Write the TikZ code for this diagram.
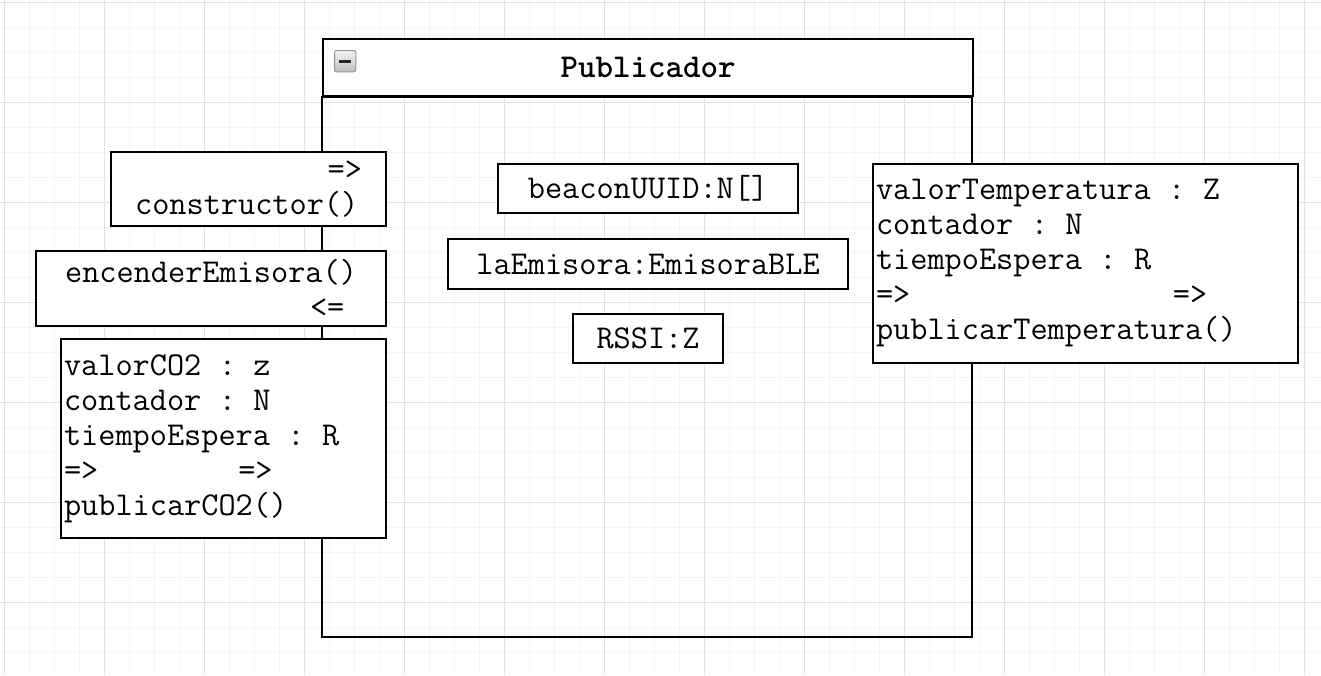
\documentclass[tikz,border=0pt]{standalone}
\usepackage{fontspec}
\newcommand{\umlfont}{\ttfamily\fontsize{25}{26.25}\selectfont}
\newcommand{\chgap}[1]{\hspace*{#1\dimexpr0.525em\relax}}
\tikzset{every picture/.style={line width=0.75pt}}
\tikzset{
  umlbox/.style={draw, fill=white, line width=1.5pt, inner sep=0pt, font=\umlfont, align=left, anchor=north west},
  gridminor/.style={draw={rgb,255:red,244;green,244;blue,244}, line width=0.75pt},
  gridmajor/.style={draw={rgb,255:red,226;green,226;blue,226}, line width=0.75pt}
}

\begin{document}
\begin{tikzpicture}[x=0.75pt,y=0.75pt,yscale=-1,xscale=1]
\useasboundingbox (0,0) rectangle (1321,675);
\fill[white] (0,0) rectangle (1321,675);

%Grid
\foreach \gx in {4,29,...,1321} \draw[gridminor] (\gx,0) -- (\gx,675);
\foreach \gy in {2,27,...,675} \draw[gridminor] (0,\gy) -- (1321,\gy);
\foreach \gx in {4,104,...,1321} \draw[gridmajor] (\gx,0) -- (\gx,675);
\foreach \gy in {2,102,...,675} \draw[gridmajor] (0,\gy) -- (1321,\gy);

%Shape: Rectangle [header]
\node (hdr) [umlbox, minimum width=487.5pt, minimum height=42.75pt, align=center] at (322,38) {\bfseries Publicador};
%Shape: Rectangle [body]
\draw [line width=1.5pt] (hdr.south west) rectangle (972,637);
%Shape: Collapse icon
\node (fold) [anchor=north west, draw={rgb,255:red,150;green,150;blue,150}, rounded corners=1.5pt, top color=gray!8, bottom color=gray!50, minimum width=16pt, minimum height=16pt, inner sep=0pt] at (334,50) {};
\draw [line width=2pt, color={rgb,255:red,40;green,40;blue,40}] ([xshift=-4.5pt]fold.center) -- ([xshift=4.5pt]fold.center);

% Text Node
\node (ctor) [umlbox, minimum width=206.25pt, minimum height=55.5pt] at (110,151) {\chgap{11}=>\\constructor()};
% Text Node
\node (enc) [umlbox, minimum width=262.5pt, minimum height=56.25pt] at (35,250) {encenderEmisora()\\\chgap{14}<=};
% Text Node
\node (co2) [umlbox, minimum width=243.75pt, minimum height=149.25pt, text width=239.25pt, inner xsep=2.25pt] at (60,338) {valorCO2\chgap{1}:\chgap{1}z\\contador\chgap{1}:\chgap{1}N\\tiempoEspera\chgap{1}:\chgap{1}R\\=>\chgap{8}=>\\publicarCO2()};
% Text Node
\node (uuid) [umlbox, minimum width=225pt, minimum height=36.75pt] at (497,163) {beaconUUID:N[]};
% Text Node
\node (emis) [umlbox, minimum width=300pt, minimum height=37.5pt] at (447,238) {laEmisora:EmisoraBLE};
% Text Node
\node (rssi) [umlbox, minimum width=112.5pt, minimum height=36.75pt] at (572,313) {RSSI:Z};
% Text Node
\node (temp) [umlbox, minimum width=318.75pt, minimum height=149.25pt, text width=314.25pt, inner xsep=2.25pt] at (872,163) {valorTemperatura\chgap{1}:\chgap{1}Z\\contador\chgap{1}:\chgap{1}N\\tiempoEspera\chgap{1}:\chgap{1}R\\=>\chgap{15}=>\\publicarTemperatura()};
\end{tikzpicture}
\end{document}
